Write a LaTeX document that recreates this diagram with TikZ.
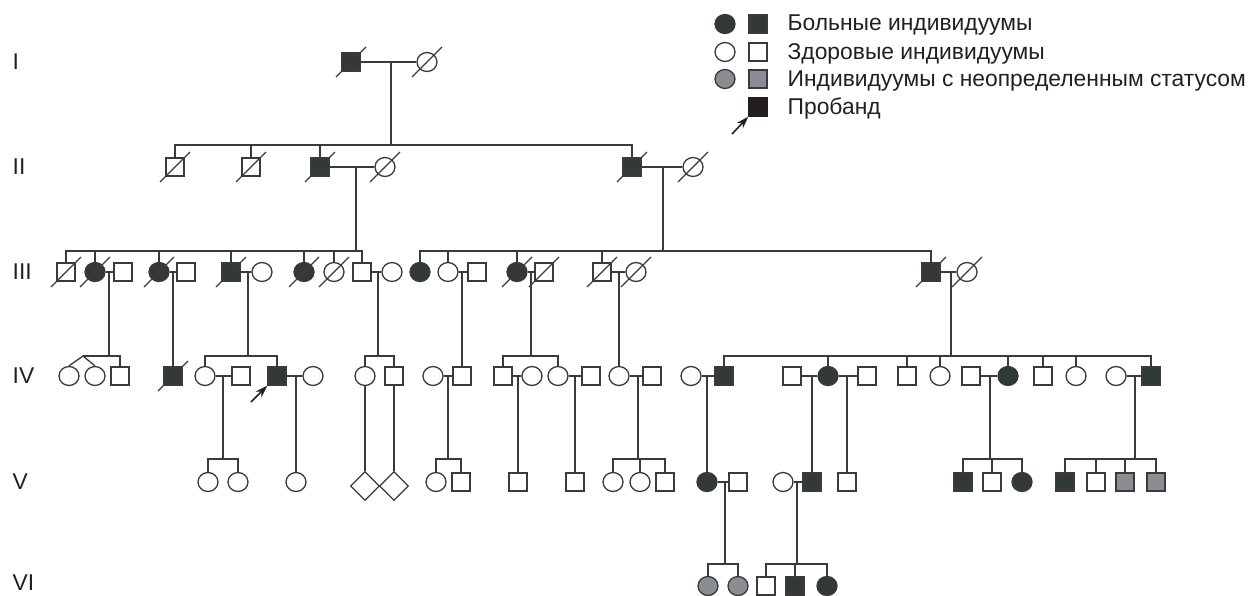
\documentclass[tikz,border=0pt]{standalone}
\usepackage{fontspec}
\setmainfont{Liberation Sans}
\usepackage{tikz}
\usetikzlibrary{calc, shapes.geometric, arrows.meta}
\definecolor{sick}{HTML}{333935}
\definecolor{unsure}{HTML}{8A8D92}
\definecolor{ink}{HTML}{3A3A3A}
\definecolor{probcol}{HTML}{231F20}

\begin{document}
\begin{tikzpicture}[>={Stealth[length=7pt,width=4.6pt]}, x=0.02cm, y=-0.02cm,
  line width=0.75pt, color=ink,
  ma/.style={rectangle, draw=ink, fill=white, minimum size=0.36cm, inner sep=0pt},
  fe/.style={ellipse, draw=ink, fill=white, minimum width=0.40cm, minimum height=0.38cm, inner sep=0pt},
  tw/.style={diamond, draw=ink, fill=white, minimum size=0.58cm, inner sep=0pt},
  ill/.style={fill=sick},
  unk/.style={fill=unsure},
  pointer/.style={->, line width=0.9pt, color=probcol},
  lbl/.style={anchor=base west, inner sep=0pt, text=probcol, font=\fontsize{13}{15}\selectfont}]
  \useasboundingbox (0,0) rectangle (1257,595);

  % generation labels
  \node[lbl] (gI) at (12,69) {I};
  \node[lbl] (gII) at (12,174) {II};
  \node[lbl] (gIII) at (12,279) {III};
  \node[lbl] (gIV) at (12,383) {IV};
  \node[lbl] (gV) at (12,489) {V};
  \node[lbl] (gVI) at (12,590) {VI};

  % legend
  \node[fe, ill] (L1c) at (725,24) {};
  \node[ma, ill] (L1s) at (758,24) {};
  \node[lbl] (L1t) at (787,31) {Больные индивидуумы};
  \node[fe] (L2c) at (725,52) {};
  \node[ma] (L2s) at (758,52) {};
  \node[lbl] (L2t) at (787,59) {Здоровые индивидуумы};
  \node[fe, unk] (L3c) at (725,79) {};
  \node[ma, unk] (L3s) at (758,79) {};
  \node[lbl] (L3t) at (787,86) {Индивидуумы с неопределенным статусом};
  \node[ma, fill=probcol, draw=probcol] (L4s) at (758,107) {};
  \node[lbl] (L4t) at (787,114) {Пробанд};
  \coordinate (L4a) at (732,134);
  \draw[pointer] (L4a) -- (L4s.south west);

  % generation I
  \node[ma, ill] (I1) at (351,62) {};
  \node[fe] (I2) at (427,62) {};

  % generation II
  \node[ma] (II1) at (175,167) {};
  \node[ma] (II2) at (251,167) {};
  \node[ma, ill] (II3) at (320,167) {};
  \node[fe] (II4) at (385,167) {};
  \node[ma, ill] (II5) at (632,167) {};
  \node[fe] (II6) at (693,167) {};

  % generation III
  \node[ma] (III1) at (66,272) {};
  \node[fe, ill] (III2) at (95,272) {};
  \node[ma] (III3) at (123,272) {};
  \node[fe, ill] (III4) at (159,272) {};
  \node[ma] (III5) at (186,272) {};
  \node[ma, ill] (III6) at (231,272) {};
  \node[fe] (III7) at (262,272) {};
  \node[fe, ill] (III8) at (304,272) {};
  \node[fe] (III9) at (334,272) {};
  \node[ma] (III10) at (362,272) {};
  \node[fe] (III11) at (392,272) {};
  \node[fe, ill] (III12) at (420,272) {};
  \node[fe] (III13) at (448,272) {};
  \node[ma] (III14) at (477,272) {};
  \node[fe, ill] (III15) at (517,272) {};
  \node[ma] (III16) at (544,272) {};
  \node[ma] (III17) at (602,272) {};
  \node[fe] (III18) at (636,272) {};
  \node[ma, ill] (III19) at (931,272) {};
  \node[fe] (III20) at (967,272) {};

  % generation IV
  \node[fe] (IV1) at (69,376) {};
  \node[fe] (IV2) at (95,376) {};
  \node[ma] (IV3) at (120,376) {};
  \node[ma, ill] (IV4) at (173,376) {};
  \node[fe] (IV5) at (205,376) {};
  \node[ma] (IV6) at (241,376) {};
  \node[ma, ill] (IV7) at (277,376) {};
  \node[fe] (IV8) at (313,376) {};
  \node[fe] (IV9) at (365,376) {};
  \node[ma] (IV10) at (394,376) {};
  \node[fe] (IV11) at (433,376) {};
  \node[ma] (IV12) at (462,376) {};
  \node[ma] (IV13) at (503,376) {};
  \node[fe] (IV14) at (532,376) {};
  \node[fe] (IV15) at (558,376) {};
  \node[ma] (IV16) at (591,376) {};
  \node[fe] (IV17) at (619,376) {};
  \node[ma] (IV18) at (652,376) {};
  \node[fe] (IV19) at (691,376) {};
  \node[ma, ill] (IV20) at (724,376) {};
  \node[ma] (IV21) at (792,376) {};
  \node[fe, ill] (IV22) at (828,376) {};
  \node[ma] (IV23) at (867,376) {};
  \node[ma] (IV24) at (907,376) {};
  \node[fe] (IV25) at (940,376) {};
  \node[ma] (IV26) at (971,376) {};
  \node[fe, ill] (IV27) at (1008,376) {};
  \node[ma] (IV28) at (1043,376) {};
  \node[fe] (IV29) at (1076,376) {};
  \node[fe] (IV30) at (1116,376) {};
  \node[ma, ill] (IV31) at (1151,376) {};

  % generation V
  \node[fe] (V1) at (208,482) {};
  \node[fe] (V2) at (238,482) {};
  \node[fe] (V3) at (296,482) {};
  \node[tw] (V4) at (365,486) {};
  \node[tw] (V5) at (394,486) {};
  \node[fe] (V6) at (436,482) {};
  \node[ma] (V7) at (461,482) {};
  \node[ma] (V8) at (518,482) {};
  \node[ma] (V9) at (575,482) {};
  \node[fe] (V10) at (613,482) {};
  \node[fe] (V11) at (640,482) {};
  \node[ma] (V12) at (665,482) {};
  \node[fe, ill] (V13) at (707,482) {};
  \node[ma] (V14) at (738,482) {};
  \node[fe] (V15) at (783,482) {};
  \node[ma, ill] (V16) at (812,482) {};
  \node[ma] (V17) at (847,482) {};
  \node[ma, ill] (V18) at (963,482) {};
  \node[ma] (V19) at (992,482) {};
  \node[fe, ill] (V20) at (1022,482) {};
  \node[ma, ill] (V21) at (1065,482) {};
  \node[ma] (V22) at (1096,482) {};
  \node[ma, unk] (V23) at (1125,482) {};
  \node[ma, unk] (V24) at (1156,482) {};

  % generation VI
  \node[fe, unk] (VI1) at (708,586) {};
  \node[fe, unk] (VI2) at (738,586) {};
  \node[ma] (VI3) at (766,586) {};
  \node[ma, ill] (VI4) at (795,586) {};
  \node[fe, ill] (VI5) at (827,586) {};

  % deceased
  \foreach \n in {I1,I2,II1,II2,II3,II4,II5,II6,III1,III2,III4,III6,III8,III9,
                  III15,III16,III17,III18,III19,III20,IV4}
    \draw (\n.center) ++(-15,15) -- ++(30,-30);

  % marriages
  \foreach \a/\b in {I1/I2, II3/II4, II5/II6, III2/III3, III4/III5, III6/III7,
                     III10/III11, III13/III14, III15/III16, III17/III18, III19/III20,
                     IV5/IV6, IV7/IV8, IV11/IV12, IV13/IV14, IV15/IV16, IV17/IV18,
                     IV19/IV20, IV21/IV22, IV22/IV23, IV26/IV27, IV30/IV31,
                     V13/V14, V15/V16}
    \draw (\a) -- (\b);

  % descent points on marriage lines and sibship lines
  \coordinate (m1) at (391,62);   \coordinate (s1) at (391,145);
  \coordinate (m2) at (356,167);  \coordinate (s2) at (356,251);
  \coordinate (m3) at (663,167);  \coordinate (s3) at (663,251);
  \coordinate (m4) at (109,272);  \coordinate (s4) at (109,356);
  \coordinate (tw4) at (83,356);
  \coordinate (m5) at (173,272);
  \coordinate (m6) at (248,272);  \coordinate (s6) at (248,356);
  \coordinate (m7) at (378,272);  \coordinate (s7) at (378,356);
  \coordinate (m8) at (462,272);
  \coordinate (m9) at (531,272);  \coordinate (s9) at (531,356);
  \coordinate (m10) at (619,272);
  \coordinate (m11) at (951,272); \coordinate (s11) at (951,356);
  \coordinate (m12) at (223,376); \coordinate (s12) at (223,459);
  \coordinate (m13) at (296,376);
  \coordinate (m15) at (448,376); \coordinate (s15) at (448,459);
  \coordinate (m16) at (518,376);
  \coordinate (m17) at (575,376);
  \coordinate (m18) at (638,376); \coordinate (s18) at (638,459);
  \coordinate (m19) at (707,376);
  \coordinate (m20) at (812,376);
  \coordinate (m21) at (847,376);
  \coordinate (m22) at (990,376); \coordinate (s22) at (990,459);
  \coordinate (m23) at (1135,376); \coordinate (s23) at (1135,459);
  \coordinate (m24) at (725,482); \coordinate (s24) at (725,564);
  \coordinate (m25) at (797,482); \coordinate (s25) at (797,564);

  \foreach \m/\s in {m1/s1, m2/s2, m3/s3, m4/s4, m6/s6, m7/s7, m9/s9, m11/s11,
                     m12/s12, m15/s15, m18/s18, m22/s22, m23/s23, m24/s24, m25/s25}
    \draw (\m) -- (\s);

  % sibships
  \draw (II1.north) |- (s1) -| (II5.north);
  \draw (III1.north) |- (s2) -| (III10.north);
  \draw (III12.north) |- (s3) -| (III19.north);
  \draw (tw4) -- (s4) -| (IV3.north);
  \draw (IV1.north) -- (tw4) -- (IV2.north);
  \draw (IV5.north) |- (s6) -| (IV7.north);
  \draw (IV9.north) |- (s7) -| (IV10.north);
  \draw (IV13.north) |- (s9) -| (IV15.north);
  \draw (IV20.north) |- (s11) -| (IV31.north);
  \draw (V1.north) |- (s12) -| (V2.north);
  \draw (V6.north) |- (s15) -| (V7.north);
  \draw (V10.north) |- (s18) -| (V12.north);
  \draw (V18.north) |- (s22) -| (V20.north);
  \draw (V21.north) |- (s23) -| (V24.north);
  \draw (VI1.north) |- (s24) -| (VI2.north);
  \draw (VI3.north) |- (s25) -| (VI5.north);

  \foreach \k/\s in {II2/s1, II3/s1, III2/s2, III4/s2, III6/s2, III8/s2, III9/s2,
                     III13/s3, III15/s3, III17/s3, IV22/s11, IV24/s11, IV25/s11,
                     IV27/s11, IV28/s11, IV29/s11, V11/s18, V19/s22, V22/s23,
                     V23/s23, VI4/s25}
    \draw (\k.north) -- (\k.north |- \s);

  % single children
  \foreach \m/\k in {m5/IV4, m8/IV12, m10/IV17, m13/V3, m16/V8, m17/V9,
                     m19/V13, m20/V16, m21/V17}
    \draw (\m) -- (\k);
  \draw (IV9) -- (V4);
  \draw (IV10) -- (V5);

  % proband
  \coordinate (pa) at (251,402);
  \draw[pointer] (pa) -- (IV7.south west);
\end{tikzpicture}
\end{document}
